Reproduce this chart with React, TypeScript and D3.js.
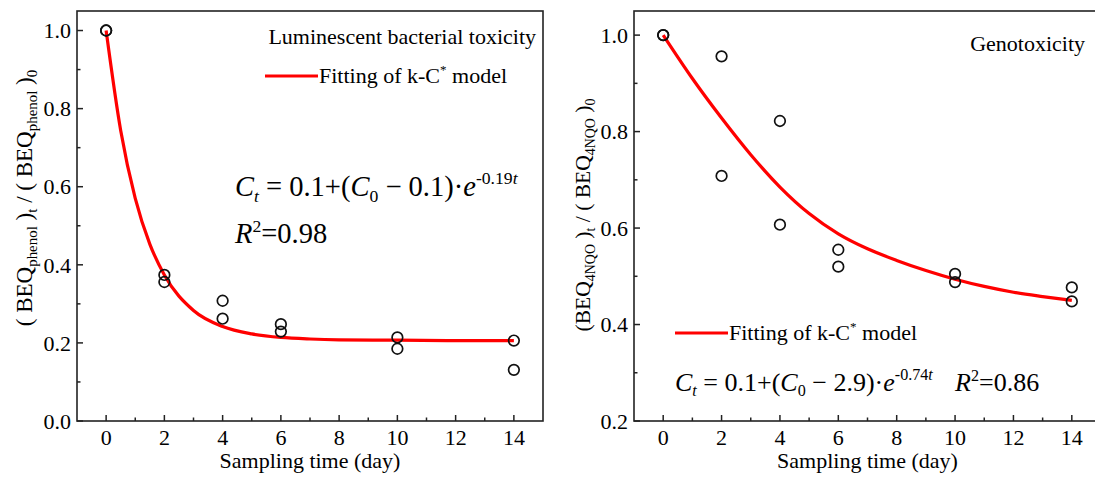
import React from "react";
import * as d3 from "d3";

// sampling days and replicate readings
const days = [0, 2, 4, 6, 10, 14];
const lumRep1 = [1.0, 0.374, 0.308, 0.248, 0.214, 0.206];
const lumRep2 = [1.0, 0.356, 0.262, 0.229, 0.185, 0.131];
const genoRep1 = [1.0, 0.956, 0.822, 0.555, 0.505, 0.477];
const genoRep2 = [1.0, 0.708, 0.607, 0.52, 0.488, 0.448];

// fitted curves
const lumFitDays = [0, 0.5, 1, 1.5, 2, 3, 4, 5, 6, 7, 8, 10, 12, 14];
const lumFit = [1.0, 0.744, 0.57, 0.453, 0.374, 0.283, 0.242, 0.223, 0.214, 0.21, 0.208, 0.207, 0.206, 0.206];
const genoFitDays = [0, 1, 2, 3, 4, 5, 6, 7, 8, 9, 10, 11, 12, 13, 14];
const genoFit = [1.0, 0.91, 0.828, 0.752, 0.685, 0.63, 0.588, 0.557, 0.533, 0.512, 0.494, 0.479, 0.467, 0.458, 0.45];

const xMajor = [0, 2, 4, 6, 8, 10, 12, 14];
const xMinor = [1, 3, 5, 7, 9, 11, 13];
const lumYMajor = [0, 0.2, 0.4, 0.6, 0.8, 1.0];
const lumYMinor = [0.1, 0.3, 0.5, 0.7, 0.9];
const genoYMajor = [0.2, 0.4, 0.6, 0.8, 1.0];
const genoYMinor = [0.3, 0.5, 0.7, 0.9];

const FONT = "Liberation Serif, Times New Roman, Times, DejaVu Serif, serif";
const RED = "#ff0000";

function Panel({ left, right, yDomain, yMajor, yMinor, rep1, rep2, fitX, fitY }) {
  const top = 11, bottom = 421;
  const x = d3.scaleLinear().domain([-1, 15]).range([left, right]);
  const y = d3.scaleLinear().domain(yDomain).range([bottom, top]);
  const line = d3
    .line<number>()
    .x((_, i) => x(fitX[i]))
    .y((d) => y(d))
    .curve(d3.curveMonotoneX);

  return (
    <g>
      <path d={line(fitY) ?? ""} fill="none" stroke={RED} strokeWidth={3.2} />
      {[rep1, rep2].map((rep, k) =>
        rep.map((v, i) => (
          <circle key={`${k}-${i}`} cx={x(days[i])} cy={y(v)} r={5.3} fill="none" stroke="#111" strokeWidth={1.7} />
        ))
      )}
      <rect x={left} y={top} width={right - left} height={bottom - top} fill="none" stroke="#222" strokeWidth={1.6} />
      {xMajor.map((t) => (
        <g key={t}>
          <line x1={x(t)} x2={x(t)} y1={bottom} y2={bottom - 6} stroke="#222" strokeWidth={1.5} />
          <text x={x(t)} y={445} textAnchor="middle" fontSize={22}>{t}</text>
        </g>
      ))}
      {xMinor.map((t) => (
        <line key={t} x1={x(t)} x2={x(t)} y1={bottom} y2={bottom - 3.5} stroke="#222" strokeWidth={1.5} />
      ))}
      {yMajor.map((v) => (
        <g key={v}>
          <line x1={left} x2={left + 6} y1={y(v)} y2={y(v)} stroke="#222" strokeWidth={1.5} />
          <text x={left - 6} y={y(v)} dy="0.35em" textAnchor="end" fontSize={22}>{d3.format(".1f")(v)}</text>
        </g>
      ))}
      {yMinor.map((v) => (
        <line key={v} x1={left} x2={left + 3.5} y1={y(v)} y2={y(v)} stroke="#222" strokeWidth={1.5} />
      ))}
      <text x={(left + right) / 2} y={468} textAnchor="middle" fontSize={22}>Sampling time (day)</text>
    </g>
  );
}

function YLabel({ cx, cy, sub, open, size }) {
  const s = size * 0.65;
  return (
    <text transform={`translate(${cx},${cy}) rotate(-90)`} textAnchor="middle" dy="0.35em" fontSize={size}>
      <tspan>{open}BEQ</tspan>
      <tspan fontSize={s} dy={5}>{sub}</tspan>
      <tspan dy={-5}> )</tspan>
      <tspan fontSize={s} dy={5}>t</tspan>
      <tspan dy={-5}> / ( BEQ</tspan>
      <tspan fontSize={s} dy={5}>{sub}</tspan>
      <tspan dy={-5}> )</tspan>
      <tspan fontSize={s} dy={5}>0</tspan>
    </text>
  );
}

function Equation({ x, y, size, c, k }) {
  const s = size * 0.62;
  return (
    <text x={x} y={y} fontSize={size}>
      <tspan fontStyle="italic">C</tspan>
      <tspan fontStyle="italic" fontSize={s} dy={size * 0.2}>t</tspan>
      <tspan dy={-size * 0.2}> = 0.1+(</tspan>
      <tspan fontStyle="italic">C</tspan>
      <tspan fontSize={s} dy={size * 0.2}>0</tspan>
      <tspan dy={-size * 0.2}> − {c})·</tspan>
      <tspan fontStyle="italic">e</tspan>
      <tspan fontSize={s} dy={-size * 0.42}>{k}</tspan>
      <tspan fontSize={s} fontStyle="italic">t</tspan>
    </text>
  );
}

function R2({ x, y, size, value }) {
  return (
    <text x={x} y={y} fontSize={size}>
      <tspan fontStyle="italic">R</tspan>
      <tspan fontSize={size * 0.62} dy={-size * 0.38}>2</tspan>
      <tspan dy={size * 0.38}>={value}</tspan>
    </text>
  );
}

function Legend({ x, y }) {
  return (
    <g>
      <line x1={x} x2={x + 53} y1={y} y2={y} stroke={RED} strokeWidth={3.2} />
      <text x={x + 54} y={y + 7} fontSize={22}>
        Fitting of k-C<tspan fontSize={13} dy={-9}>*</tspan>
        <tspan dy={9}> model</tspan>
      </text>
    </g>
  );
}

export default function App() {
  return (
    <svg width={1095} height={480} style={{ position: "absolute", left: 0, top: 0, background: "#fff", fontFamily: FONT }}>
      <Panel left={77} right={543} yDomain={[0, 1.05]} yMajor={lumYMajor} yMinor={lumYMinor}
        rep1={lumRep1} rep2={lumRep2} fitX={lumFitDays} fitY={lumFit} />
      <Panel left={634} right={1101} yDomain={[0.2, 1.05]} yMajor={genoYMajor} yMinor={genoYMinor}
        rep1={genoRep1} rep2={genoRep2} fitX={genoFitDays} fitY={genoFit} />

      <YLabel cx={24} cy={198} sub="phenol" open="( " size={23} />
      <YLabel cx={582} cy={215} sub="4NQO" open="(" size={21.5} />

      <text x={536} y={44} textAnchor="end" fontSize={22}>Luminescent bacterial toxicity</text>
      <Legend x={265} y={76} />
      <Equation x={235} y={196} size={28.5} c="0.1" k="-0.19" />
      <R2 x={235} y={243} size={28.5} value="0.98" />

      <text x={1085} y={51} textAnchor="end" fontSize={22}>Genotoxicity</text>
      <Legend x={675} y={333} />
      <Equation x={675} y={391} size={26} c="2.9" k="-0.74" />
      <R2 x={955} y={391} size={26} value="0.86" />
    </svg>
  );
}
